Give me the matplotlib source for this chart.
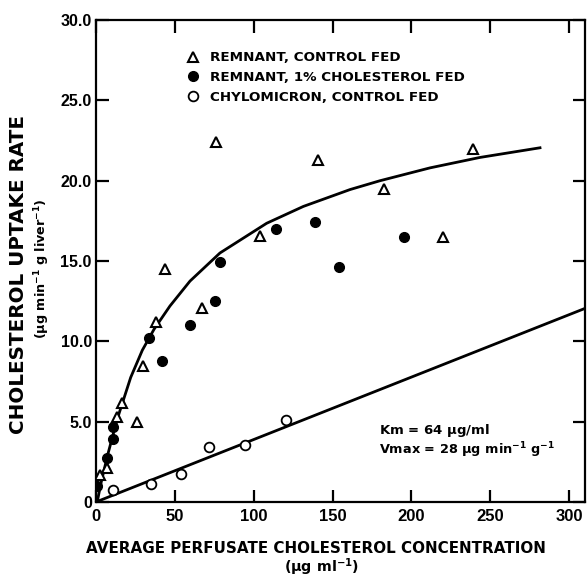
import matplotlib
matplotlib.use("Agg")
import matplotlib.pyplot as plt
from matplotlib import font_manager

# remnant, control fed (open triangles)
tri_x = [2.5, 6.8, 13.1, 16.3, 25.8, 29.6, 37.8, 43.8, 67.0, 75.8, 104.0, 140.6, 182.6, 220.2, 238.9]
tri_y = [1.7, 2.1, 5.3, 6.14, 5.0, 8.46, 11.2, 14.5, 12.05, 22.4, 16.55, 21.3, 19.5, 16.5, 22.0]

# remnant, 1% cholesterol fed (filled circles)
dot_x = [0.4, 7.2, 11.0, 11.0, 33.8, 41.6, 59.6, 75.7, 78.6, 114.0, 138.9, 154.3, 195.5]
dot_y = [1.0, 2.72, 4.69, 3.9, 10.2, 8.77, 11.0, 12.5, 14.95, 17.0, 17.45, 14.6, 16.5]

# chylomicron, control fed (open circles)
chy_x = [11.0, 34.9, 53.9, 71.9, 94.5, 120.3]
chy_y = [0.75, 1.12, 1.74, 3.4, 3.55, 5.1]

# fitted curve
curve_x = [0.8, 3.0, 7.2, 11.4, 14.6, 22.0, 29.4, 36.8, 46.9, 59.6, 78.6, 108.2, 131.5, 161.1, 180.1, 211.8, 243.5, 281.5]
curve_y = [0.0, 1.1, 2.85, 4.4, 5.5, 7.75, 9.45, 10.75, 12.2, 13.75, 15.5, 17.35, 18.4, 19.45, 20.0, 20.8, 21.45, 22.05]

# chylomicron line
line_x = [0, 310]
line_y = [0, 12.05]

x_ticks = [0, 50, 100, 150, 200, 250, 300]
y_ticks = [0, 5, 10, 15, 20, 25, 30]
y_labels = ["0", "5.0", "10.0", "15.0", "20.0", "25.0", "30.0"]

names = {f.name for f in font_manager.fontManager.ttflist}
narrow = "Liberation Sans Narrow" if "Liberation Sans Narrow" in names else "Liberation Sans"

plt.rcParams["font.family"] = ["Liberation Sans", "DejaVu Sans"]
plt.rcParams["mathtext.fontset"] = "custom"
plt.rcParams["mathtext.rm"] = "DejaVu Sans:bold"
plt.rcParams["mathtext.it"] = "DejaVu Sans:bold"
plt.rcParams["mathtext.bf"] = "DejaVu Sans:bold"

fig = plt.figure(figsize=(5.87, 5.82), dpi=100)
ax = fig.add_axes([0.1635, 0.1375, 0.833, 0.828])

ax.plot(curve_x, curve_y, color="black", lw=2.0, solid_joinstyle="round")
ax.plot(line_x, line_y, color="black", lw=2.0)

h1, = ax.plot(tri_x, tri_y, ls="none", marker="^", ms=7.2, mfc="white", mec="black", mew=1.5,
              label="REMNANT, CONTROL FED", zorder=3)
h2, = ax.plot(dot_x, dot_y, ls="none", marker="o", ms=7, mfc="black", mec="black",
              label="REMNANT, 1% CHOLESTEROL FED", zorder=3)
h3, = ax.plot(chy_x, chy_y, ls="none", marker="o", ms=7, mfc="white", mec="black", mew=1.3,
              label="CHYLOMICRON, CONTROL FED", zorder=3)

ax.set_xlim(0, 310)
ax.set_ylim(0, 30)
ax.set_xticks(x_ticks)
ax.set_yticks(y_ticks)
ax.set_yticklabels(y_labels)

for sp in ax.spines.values():
    sp.set_linewidth(1.6)

ax.tick_params(direction="in", length=9, width=1.6, top=True, right=True)
ax.tick_params(axis="y", pad=3, labelsize=11.5)
ax.tick_params(axis="x", pad=5, labelsize=12)
for t in ax.get_yticklabels():
    t.set_fontweight("bold")
for t in ax.get_xticklabels():
    t.set_fontweight("bold")
    t.set_family(narrow)

leg = ax.legend(handles=[h1, h2, h3], loc="upper left", bbox_to_anchor=(0.184, 0.935),
                frameon=False, handlelength=1.0, handletextpad=0.8, borderaxespad=0,
                borderpad=0, labelspacing=0.5,
                prop={"family": "DejaVu Sans", "weight": "bold", "size": 9.7})

ax.text(179.5, 4.45, r"Km = 64 $\mu$g/ml", fontsize=9.5, fontweight="bold", va="center",
        family="DejaVu Sans")
ax.text(179.5, 3.25, r"Vmax = 28 $\mu$g min$^{-1}$ g$^{-1}$", fontsize=9.3, fontweight="bold",
        va="center", family="DejaVu Sans")

fig.text(0.538, 0.058, "AVERAGE PERFUSATE CHOLESTEROL CONCENTRATION", ha="center", va="center",
         fontsize=10.9, fontweight="bold", family="DejaVu Sans")
fig.text(0.548, 0.026, r"($\mu$g ml$^{-1}$)", ha="center", va="center", fontsize=10.3,
         fontweight="bold", family="DejaVu Sans")

fig.text(0.031, 0.529, "CHOLESTEROL UPTAKE RATE", rotation=90, ha="center", va="center",
         fontsize=14.3, fontweight="bold", family="DejaVu Sans")
fig.text(0.072, 0.539, r"($\mu$g min$^{-1}$ g liver$^{-1}$)", rotation=90, ha="center", va="center",
         fontsize=9.2, fontweight="bold", family="DejaVu Sans")

fig.savefig("out.png", dpi=100)
